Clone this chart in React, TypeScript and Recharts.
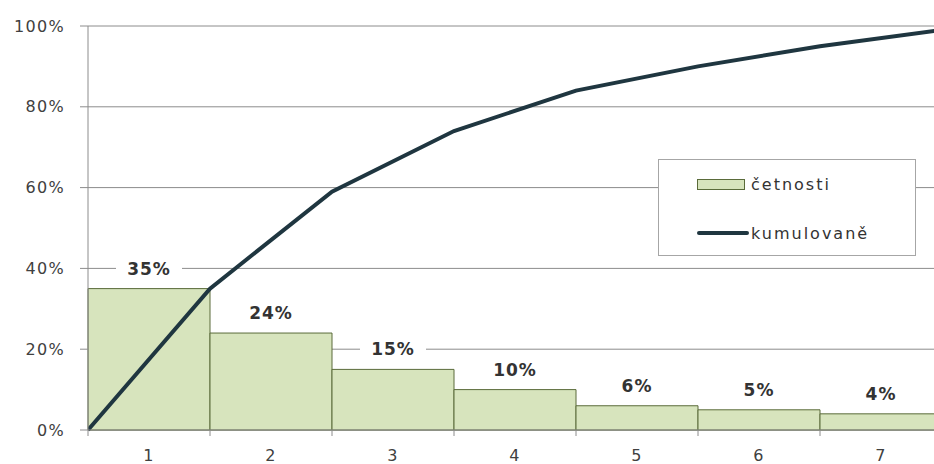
import {Bar, CartesianGrid, ComposedChart, LabelList, Legend, Line, XAxis, YAxis} from "recharts";

// četnosti per category
const categories = ["1", "2", "3", "4", "5", "6", "7"];
const frequencies = [35, 24, 15, 10, 6, 5, 4];

// cumulative line sits on category boundaries (0..7)
const boundaries = [0, 1, 2, 3, 4, 5, 6, 7];
const cumulative = [0, 35, 59, 74, 84, 90, 95, 99];

const yTicks = [0, 20, 40, 60, 80, 100];

const barFill = "#d7e4bd";
const barStroke = "#5a6b3a";
const lineColor = "#1f3640";
const gridColor = "#8c8c8c";
const textColor = "#404040";

const barData = categories.map((cat, i) => ({cat, cetnosti: frequencies[i]}));
const lineData = boundaries.map((x, i) => ({x, kumulovane: cumulative[i]}));

const PctLabel = (props: any) => {
    const {x, y, width, value} = props;
    const cx = x + width / 2;
    const cy = y - 20;
    return (
        <g>
            <rect x={cx - 33} y={cy - 11} width={66} height={22} fill="#fff"/>
            <text x={cx} y={cy} textAnchor="middle" dominantBaseline="central"
                  fontFamily="DejaVu Sans" fontWeight="bold" fontSize={17} letterSpacing={1} fill="#333">
                {value}%
            </text>
        </g>
    );
};

const LegendBox = ({payload}: any) => {
    // bars first, then the line
    const items = [...(payload || [])].sort((a: any, b: any) => (a.type === "line" ? 1 : 0) - (b.type === "line" ? 1 : 0));
    return (
        <div style={{
            position: "relative", width: 258, height: 97, boxSizing: "border-box",
            border: "1px solid #a6a6a6", background: "#fff",
            fontFamily: "DejaVu Sans", fontSize: 16, letterSpacing: 2, color: "#333",
        }}>
            {items.map((entry: any, i: number) => (
                <div key={entry.value} style={{position: "absolute", left: 38, top: i === 0 ? 14 : 63, height: 20, display: "flex", alignItems: "center"}}>
                    {entry.type === "line"
                        ? <div style={{width: 52, height: 4, borderRadius: 2, background: lineColor}}/>
                        : <div style={{width: 48, height: 11, boxSizing: "border-box", background: barFill, border: `1px solid ${barStroke}`, marginRight: 4}}/>}
                    <span style={{marginLeft: 2}}>{entry.value}</span>
                </div>
            ))}
        </div>
    );
};

export default function App() {
    return (
        <div style={{position: "fixed", left: 0, top: 0, width: 934, height: 464, overflow: "hidden", background: "#fff"}}>
            <ComposedChart width={942} height={464} data={barData}
                           margin={{top: 26, right: 0, bottom: 0, left: 0}}
                           barCategoryGap={0} barGap={0}>
                <CartesianGrid vertical={false} stroke={gridColor} xAxisId="edge"/>
                <XAxis xAxisId="label" dataKey="cat" height={33} axisLine={false} tickLine={false}
                       tickSize={6} tickMargin={13}
                       tick={{fill: textColor, fontSize: 16, fontFamily: "DejaVu Sans", letterSpacing: 1.3}}/>
                <XAxis xAxisId="edge" type="number" dataKey="x" domain={[0, 7]} ticks={boundaries}
                       height={1} tickSize={6} tickFormatter={() => ""}
                       axisLine={{stroke: gridColor}} tickLine={{stroke: gridColor}} allowDataOverflow/>
                <YAxis domain={[0, 100]} ticks={yTicks} width={88} tickSize={8} tickMargin={15}
                       tickFormatter={(v) => `${v}%`}
                       axisLine={{stroke: gridColor}} tickLine={{stroke: gridColor}}
                       tick={{fill: textColor, fontSize: 16, fontFamily: "DejaVu Sans", letterSpacing: 1.3}}/>
                <Legend layout="vertical" align="center" verticalAlign="middle" content={<LegendBox/>}
                        wrapperStyle={{left: 658, top: 159, width: 258, height: 97}}/>
                <Bar xAxisId="label" dataKey="cetnosti" name="četnosti" fill={barFill} stroke={barStroke}
                     strokeWidth={1} isAnimationActive={false}>
                    <LabelList dataKey="cetnosti" content={<PctLabel/>}/>
                </Bar>
                <Line xAxisId="edge" data={lineData} dataKey="kumulovane" name="kumulovaně" type="linear"
                      stroke={lineColor} strokeWidth={4} dot={false} activeDot={false}
                      legendType="line" isAnimationActive={false}/>
            </ComposedChart>
        </div>
    );
}
